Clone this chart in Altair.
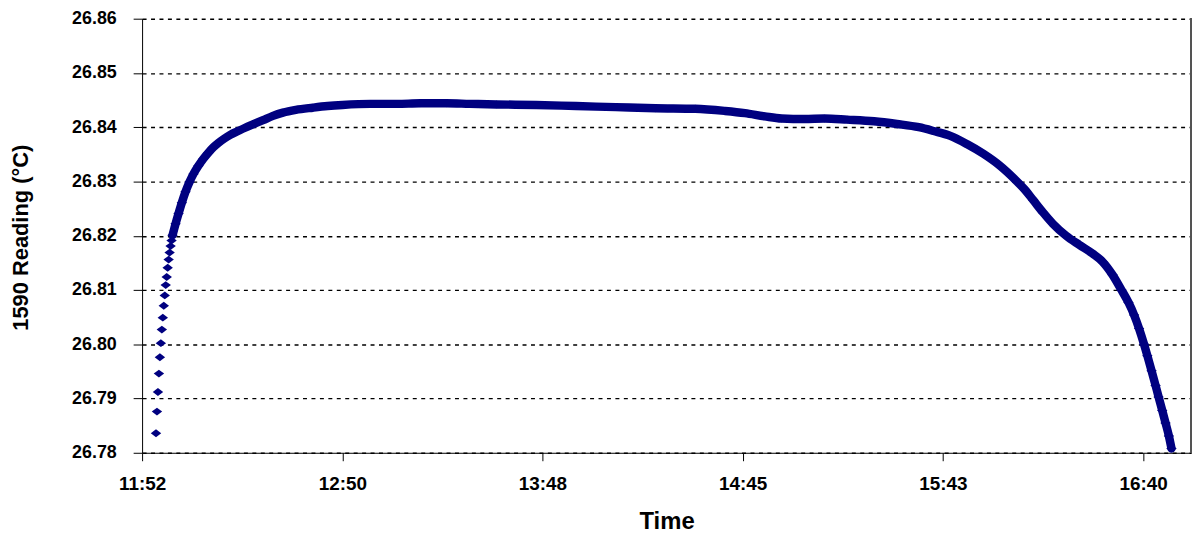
import altair as alt
import pandas as pd

# Time of each reading, minutes after midnight
times = [
    716.90, 717.18, 717.46, 717.74, 718.02, 718.30, 718.58, 718.86, 719.14, 719.42,
    719.70, 719.98, 720.26, 720.54, 720.82, 721.10, 721.38, 721.66, 722.53, 723.39,
    724.34, 725.39, 726.54, 727.68, 729.11, 730.54, 731.97, 733.40, 734.83, 736.54,
    738.26, 740.54, 742.55, 745.12, 747.69, 750.55, 753.41, 757.13, 762.00, 766.27,
    770.56, 778.57, 786.29, 792.86, 800.58, 807.15, 814.87, 826.31, 837.74, 849.18,
    860.61, 872.05, 880.63, 886.34, 892.06, 896.92, 903.50, 909.21, 915.79, 923.51,
    930.08, 936.37, 940.66, 945.44, 950.18, 954.96, 959.73, 964.47, 966.88, 969.25,
    972.11, 974.97, 978.77, 982.60, 986.40, 989.26, 992.12, 994.69, 996.70, 998.32,
    999.75, 1001.18, 1002.13, 1003.35, 1004.50, 1005.36, 1006.41, 1007.36, 1008.33, 1009.07,
]

# 1590 reading, degrees C
readings = [
    26.7836, 26.7876, 26.7912, 26.7946, 26.7976, 26.8002, 26.8027, 26.8049, 26.8071, 26.8090,
    26.8109, 26.8124, 26.8141, 26.8156, 26.8169, 26.8181, 26.8191, 26.8201, 26.8222, 26.8241,
    26.8261, 26.8281, 26.8299, 26.8314, 26.8329, 26.8342, 26.8353, 26.8363, 26.8371, 26.8379,
    26.8386, 26.8393, 26.8399, 26.8406, 26.8413, 26.8421, 26.8427, 26.8432, 26.8436, 26.8439,
    26.8441, 26.8443, 26.8443, 26.8444, 26.8444, 26.8443, 26.8442, 26.8441, 26.8439, 26.8437,
    26.8435, 26.8434, 26.8430, 26.8426, 26.8420, 26.8416, 26.8415, 26.8416, 26.8414, 26.8411,
    26.8406, 26.8400, 26.8393, 26.8384, 26.8369, 26.8351, 26.8329, 26.8301, 26.8285, 26.8266,
    26.8243, 26.8222, 26.8200, 26.8183, 26.8167, 26.8152, 26.8128, 26.8100, 26.8077, 26.8054,
    26.8029, 26.8000, 26.7979, 26.7951, 26.7924, 26.7903, 26.7878, 26.7855, 26.7831, 26.7808,
]

x_tick_values = [712.9, 770.5, 828.1, 885.7, 943.3, 1000.9]
x_tick_labels = ["11:52", "12:50", "13:48", "14:45", "15:43", "16:40"]
x_domain = [712.9, 1014.7]

y_tick_values = [26.78, 26.79, 26.80, 26.81, 26.82, 26.83, 26.84, 26.85, 26.86]
y_domain = [26.78, 26.86]

df = pd.DataFrame({"t": times, "v": readings})

label_expr = "".join(
    f"datum.value == {v} ? '{l}' : " for v, l in zip(x_tick_values, x_tick_labels)
) + "''"

W, H = 1056, 437
FONT = "Liberation Sans"
NAVY = "#000080"

x_enc = alt.X(
    "t:Q",
    scale=alt.Scale(domain=x_domain, nice=False, zero=False),
    axis=alt.Axis(
        title="Time",
        values=x_tick_values,
        labelExpr=label_expr,
        labelFlush=False,
        grid=False,
        tickSize=8,
        tickColor="black",
        domainColor="black",
        labelPadding=23,
        labelBaseline="middle",
        labelFont=FONT,
        labelFontSize=19,
        labelFontWeight="bold",
        labelColor="black",
        titleFont=FONT,
        titleFontSize=24,
        titleFontWeight="bold",
        titleColor="black",
        titleBaseline="middle",
        titleY=69,
    ),
)

y_enc = alt.Y(
    "v:Q",
    scale=alt.Scale(domain=y_domain, nice=False, zero=False),
    axis=alt.Axis(
        title="1590 Reading (°C)",
        values=y_tick_values,
        format=".2f",
        grid=True,
        gridColor="black",
        gridOpacity=1,
        gridDash=[4, 4.5],
        gridWidth=1.4,
        tickSize=9,
        tickColor="black",
        domainColor="black",
        labelPadding=17,
        labelFont=FONT,
        labelFontSize=18,
        labelFontWeight="bold",
        labelColor="black",
        titleFont=FONT,
        titleFontSize=22,
        titleFontWeight="bold",
        titleColor="black",
        titleAngle=-90,
        titleAlign="center",
        titleBaseline="middle",
        titleX=-122,
        titleY=220,
    ),
)

base = alt.Chart(df)

band = base.transform_filter("datum.t >= 721.6").mark_line(
    color=NAVY, strokeWidth=8.5, interpolate="monotone", strokeCap="round", strokeJoin="round"
).encode(x=x_enc, y=y_enc)

points = base.mark_point(
    shape="M-1,0L0,-0.75L1,0L0,0.75Z", filled=True, size=110, color=NAVY, opacity=1
).encode(x=x_enc, y=y_enc)

border = alt.Chart(df).mark_rule(color="#555555", strokeWidth=1).encode(
    x=alt.value(W), y=alt.value(0), y2=alt.value(H)
)

chart = (
    alt.layer(band, points, border)
    .properties(
        width=W,
        height=H,
        autosize=alt.AutoSizeParams(type="none"),
        padding={"left": 135, "top": 9, "right": 5, "bottom": 80},
    )
    .configure_view(strokeWidth=0)
)

chart.save("out.html", embed_options={"renderer": "svg", "actions": False})
